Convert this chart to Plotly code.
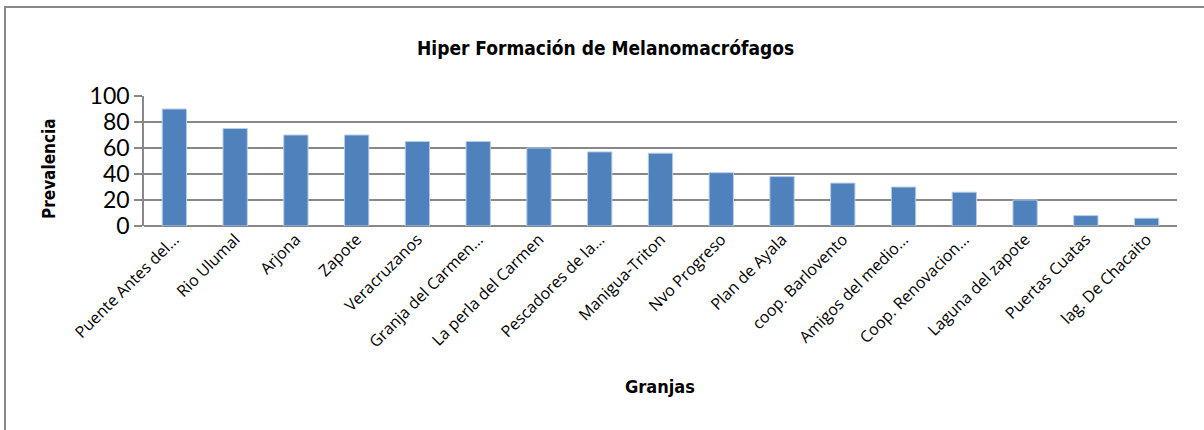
import plotly.graph_objects as go

categories = ["Puente Antes del...", "Rio Ulumal", "Arjona", "Zapote", "Veracruzanos",
              "Granja del Carmen...", "La perla del Carmen", "Pescadores de la...",
              "Manigua-Triton", "Nvo Progreso", "Plan de Ayala", "coop. Barlovento",
              "Amigos del medio...", "Coop. Renovacion...", "Laguna del zapote",
              "Puertas Cuatas", "lag. De Chacaito"]
prevalencia = [90, 75, 70, 70, 65, 65, 60, 57, 56, 41, 38, 33, 30, 26, 20, 8, 6]
y_ticks = [0, 20, 40, 60, 80, 100]

W, H = 1204, 430
L, R, T, B = 144, 1177, 96, 226
pw, ph = R - L, B - T

def px(x):
    return (x - L) / pw

def py(y):
    return (B - y) / ph

cond = "Liberation Sans Narrow, DejaVu Sans Condensed, Arial Narrow, sans-serif"
tickfont = "Open Sans, Lato, sans-serif"

fig = go.Figure(go.Bar(
    x=categories, y=prevalencia, width=0.4,
    marker=dict(color="#4F81BD", line=dict(color="#B9CDE5", width=1)),
))

fig.update_layout(
    width=W, height=H,
    margin=dict(l=L, r=W - R, t=T, b=H - B),
    paper_bgcolor="white", plot_bgcolor="white",
    showlegend=False, bargap=0.6,
    xaxis=dict(tickangle=-45, tickfont=dict(family=tickfont, size=16, color="black"),
               showline=False, showgrid=False, ticks="", automargin=False),
    yaxis=dict(range=[0, 100], tickvals=y_ticks,
               tickfont=dict(family="Lato, sans-serif", size=23, color="black"),
               showgrid=True, gridcolor="#888888", gridwidth=1.5,
               showline=True, linecolor="#888888", linewidth=1.5,
               ticks="outside", ticklen=8, tickcolor="#888888", tickwidth=1.5,
               zeroline=True, zerolinecolor="#888888", zerolinewidth=1.5,
               automargin=False),
    annotations=[
        dict(text="<b>Hiper Formación de Melanomacrófagos</b>", xref="paper", yref="paper",
             x=px(605), y=py(48), showarrow=False, xanchor="center", yanchor="middle",
             font=dict(family=cond, size=19, color="black")),
        dict(text="<b>Granjas</b>", xref="paper", yref="paper",
             x=px(660), y=py(386), showarrow=False, xanchor="center", yanchor="middle",
             font=dict(family=cond, size=18, color="black")),
        dict(text="<b>Prevalencia</b>", xref="paper", yref="paper", textangle=-90,
             x=px(49), y=py(169), showarrow=False, xanchor="center", yanchor="middle",
             font=dict(family=cond, size=17, color="black")),
    ],
    shapes=[dict(type="rect", xref="paper", yref="paper",
                 x0=px(5), x1=px(1215), y0=py(7), y1=py(445),
                 line=dict(color="#888888", width=2), layer="below")],
)

fig.write_html("out.html", config={"displayModeBar": False},
               post_script="document.body.style.margin='0';document.body.style.overflow='hidden';")
